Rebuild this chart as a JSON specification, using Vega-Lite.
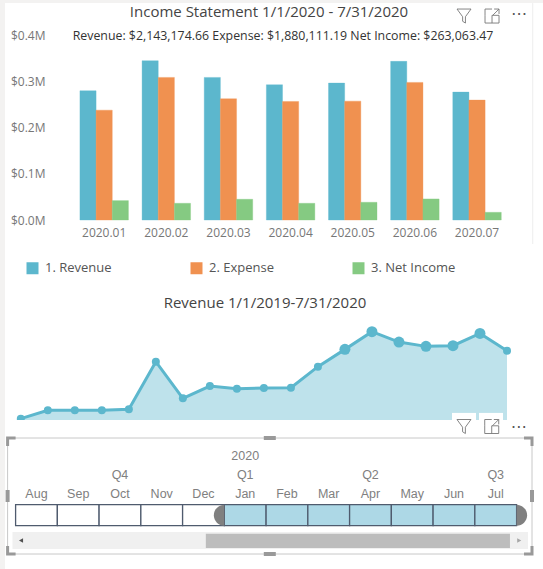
{
"$schema":"https://vega.github.io/schema/vega-lite/v6.json",
"padding":{"left":5,"top":2,"right":0,"bottom":0},
"background":"#f3f2f1",
"spacing":0,
"bounds":"flush",
"resolve":{"scale":{"color":"independent"}},
"config":{"view":{"fill":"white","stroke":null},"font":"Open Sans"},
"datasets":{
"income":[
{"month":"2020.01","type":"1. Revenue","amount":279400},{"month":"2020.01","type":"2. Expense","amount":237500},{"month":"2020.01","type":"3. Net Income","amount":41900},
{"month":"2020.02","type":"1. Revenue","amount":344400},{"month":"2020.02","type":"2. Expense","amount":308300},{"month":"2020.02","type":"3. Net Income","amount":36100},
{"month":"2020.03","type":"1. Revenue","amount":308300},{"month":"2020.03","type":"2. Expense","amount":262100},{"month":"2020.03","type":"3. Net Income","amount":44800},
{"month":"2020.04","type":"1. Revenue","amount":292400},{"month":"2020.04","type":"2. Expense","amount":256300},{"month":"2020.04","type":"3. Net Income","amount":36100},
{"month":"2020.05","type":"1. Revenue","amount":296000},{"month":"2020.05","type":"2. Expense","amount":257000},{"month":"2020.05","type":"3. Net Income","amount":38300},
{"month":"2020.06","type":"1. Revenue","amount":343000},{"month":"2020.06","type":"2. Expense","amount":297500},{"month":"2020.06","type":"3. Net Income","amount":45500},
{"month":"2020.07","type":"1. Revenue","amount":276500},{"month":"2020.07","type":"2. Expense","amount":259200},{"month":"2020.07","type":"3. Net Income","amount":16600}],
"trend":[
{"m":"2019-01","rev":5300,"focus":"no"},{"m":"2019-02","rev":38200,"focus":"no"},{"m":"2019-03","rev":38200,"focus":"no"},{"m":"2019-04","rev":38200,"focus":"no"},{"m":"2019-05","rev":42200,"focus":"no"},{"m":"2019-06","rev":230600,"focus":"no"},{"m":"2019-07","rev":85700,"focus":"no"},{"m":"2019-08","rev":134400,"focus":"no"},{"m":"2019-09","rev":123900,"focus":"no"},{"m":"2019-10","rev":126500,"focus":"no"},{"m":"2019-11","rev":127800,"focus":"no"},{"m":"2019-12","rev":210900,"focus":"no"},{"m":"2020-01","rev":279400,"focus":"yes"},{"m":"2020-02","rev":349300,"focus":"yes"},{"m":"2020-03","rev":308400,"focus":"yes"},{"m":"2020-04","rev":291300,"focus":"yes"},{"m":"2020-05","rev":293900,"focus":"yes"},{"m":"2020-06","rev":342600,"focus":"yes"},{"m":"2020-07","rev":274100,"focus":"no"}],
"cells":[
{"mon":"Aug","sel":"no"},{"mon":"Sep","sel":"no"},{"mon":"Oct","sel":"no"},{"mon":"Nov","sel":"no"},{"mon":"Dec","sel":"no"},{"mon":"Jan","sel":"yes"},{"mon":"Feb","sel":"yes"},{"mon":"Mar","sel":"yes"},{"mon":"Apr","sel":"yes"},{"mon":"May","sel":"yes"},{"mon":"Jun","sel":"yes"},{"mon":"Jul","sel":"yes"}],
"labels":[
{"mon":"Aug","lvl":"month","t":"Aug"},{"mon":"Sep","lvl":"month","t":"Sep"},{"mon":"Oct","lvl":"month","t":"Oct"},{"mon":"Nov","lvl":"month","t":"Nov"},{"mon":"Dec","lvl":"month","t":"Dec"},{"mon":"Jan","lvl":"month","t":"Jan"},{"mon":"Feb","lvl":"month","t":"Feb"},{"mon":"Mar","lvl":"month","t":"Mar"},{"mon":"Apr","lvl":"month","t":"Apr"},{"mon":"May","lvl":"month","t":"May"},{"mon":"Jun","lvl":"month","t":"Jun"},{"mon":"Jul","lvl":"month","t":"Jul"},
{"mon":"Oct","lvl":"quarter","t":"Q4"},{"mon":"Jan","lvl":"quarter","t":"Q1"},{"mon":"Apr","lvl":"quarter","t":"Q2"},{"mon":"Jul","lvl":"quarter","t":"Q3"},{"mon":"Jan","lvl":"year","t":"2020"}],
"handles":[
{"fx":0,"fy":0,"k":"tl"},{"fx":1,"fy":0,"k":"tr"},{"fx":0,"fy":1,"k":"bl"},{"fx":1,"fy":1,"k":"br"},{"fx":0.5,"fy":0,"k":"h"},{"fx":0.5,"fy":1,"k":"h"},{"fx":0,"fy":0.5,"k":"v"},{"fx":1,"fy":0.5,"k":"v"}]
},
"vconcat":[
{"width":538,"height":282,
"title":{"text":"Income Statement 1/1/2020 - 7/31/2020","fontSize":15,"fontWeight":"normal","color":"#444444","anchor":"middle","dx":-5,"offset":-17},
"layer":[
{"data":{"name":"income"},"mark":{"type":"bar","strokeWidth":1,"strokeOpacity":0.35},
"encoding":{
"x":{"field":"month","type":"nominal","scale":{"domain":["2020.01","2020.02","2020.03","2020.04","2020.05","2020.06","2020.07"],"range":[68.1,503.1],"paddingInner":0.22,"paddingOuter":0.11},
"axis":{"title":null,"labelAngle":0,"domain":false,"ticks":false,"labelColor":"#777777","labelFontSize":12,"labelPadding":7,"offset":-65}},
"xOffset":{"field":"type","type":"nominal","scale":{"paddingInner":0,"paddingOuter":0}},
"y":{"field":"amount","type":"quantitative","scale":{"domain":[0,400000],"range":[217,32],"nice":false},
"axis":{"title":null,"grid":false,"domain":false,"ticks":false,"tickCount":5,"labelColor":"#777777","labelFontSize":12,"labelPadding":-40,"labelExpr":"'$' + format(datum.value/1000000,'.1f') + 'M'"}},
"color":{"field":"type","type":"nominal","scale":{"domain":["1. Revenue","2. Expense","3. Net Income"],"range":["#5cb7cd","#f09150","#85ca82"]},
"legend":{"title":null,"orient":"none","legendX":21,"legendY":258.5,"direction":"horizontal","columns":3,"columnPadding":78,"symbolType":"square","symbolSize":144,"symbolStrokeWidth":0,"labelFontSize":13,"labelColor":"#555555","labelOffset":6}},
"stroke":{"field":"type","type":"nominal","legend":null,"scale":{"domain":["1. Revenue","2. Expense","3. Net Income"],"range":["#5cb7cd","#f09150","#85ca82"]}}
}},
{"data":{"values":[{"text":"Revenue: $2,143,174.66 Expense: $1,880,111.19 Net Income: $263,063.47"}]},"mark":{"type":"text","fontSize":12.35,"color":"#333333","dx":-7.6,"dy":1},
"encoding":{"text":{"field":"text"},"x":{"datum":"2020.04"},"y":{"datum":400000}}},
{"data":{"values":[{"m":"2020.07"}]},"mark":{"type":"point","shape":"M-1,-1L1,-1L0.2,0.1L0.2,1L-0.2,0.75L-0.2,0.1Z","size":196,"filled":false,"opacity":1,"color":"#777777","strokeWidth":0.9,"xOffset":-13},
"encoding":{"x":{"field":"m","type":"nominal"},"y":{"datum":441000}}},
{"data":{"values":[{"m":"2020.07"}]},"mark":{"type":"point","shape":"M-1,-0.1L-1,1L1,1L1,-0.1L0,-0.1L0,1M-1,-0.1L-1,-1L0,-1M0.3,-1L1,-1L1,-0.3M1,-1L0.1,-0.1","size":196,"filled":false,"opacity":1,"color":"#777777","strokeWidth":0.9,"xOffset":15},
"encoding":{"x":{"field":"m","type":"nominal"},"y":{"datum":441000}}},
{"data":{"values":[{"m":"2020.07"}]},"mark":{"type":"text","text":"⋯","font":"DejaVu Sans","fontSize":16,"color":"#555555","dx":42},
"encoding":{"x":{"field":"m","type":"nominal"},"y":{"datum":445000}}},
{"data":{"values":[{"m":"2020.07","a":-51900,"b":469000}]},"mark":{"type":"rule","color":"#ededed","strokeWidth":1,"xOffset":55.7},
"encoding":{"x":{"field":"m","type":"nominal"},"y":{"field":"a","type":"quantitative"},"y2":{"field":"b"}}}
]},
{"width":538,"height":135,
"title":{"text":"Revenue 1/1/2019-7/31/2020","fontSize":15,"fontWeight":"normal","color":"#444444","anchor":"middle","dx":-9,"offset":-26},
"layer":[
{"data":{"name":"trend"},"mark":{"type":"area","color":"#5cb7cd","opacity":0.4},
"encoding":{"x":{"field":"m","type":"ordinal","sort":null,"scale":{"type":"point","range":[15.8,502],"padding":0},"axis":null},
"y":{"field":"rev","type":"quantitative","scale":{"domain":[0,534000],"nice":false},"axis":null}}},
{"data":{"name":"trend"},"mark":{"type":"line","color":"#5cb7cd","strokeWidth":3},
"encoding":{"x":{"field":"m","type":"ordinal","sort":null},"y":{"field":"rev","type":"quantitative"}}},
{"data":{"name":"trend"},"mark":{"type":"point","filled":true,"opacity":1,"color":"#5cb7cd","clip":true},
"encoding":{"x":{"field":"m","type":"ordinal","sort":null},"y":{"field":"rev","type":"quantitative"},
"size":{"field":"focus","type":"nominal","scale":{"domain":["no","yes"],"range":[64,121]},"legend":null}}},
{"data":{"values":[{"m":"2020-05","top":28000},{"m":"2020-06","top":28000}]},"mark":{"type":"bar","color":"white","width":24,"xOffset":11},
"encoding":{"x":{"field":"m","type":"ordinal"},"y":{"field":"top","type":"quantitative"}}}
]},
{"width":538,"height":150,
"resolve":{"scale":{"x":"independent","y":"independent"}},
"layer":[
{"data":{"values":[{"a":0,"b":1,"c":0,"d":1}]},"mark":{"type":"rect","fill":"white","stroke":"#c8c8c8","strokeWidth":1},
"encoding":{"x":{"field":"a","type":"quantitative","scale":{"domain":[0,1],"range":[2.6,527],"nice":false,"zero":false},"axis":null},"x2":{"field":"b"},
"y":{"field":"c","type":"quantitative","scale":{"domain":[0,1],"range":[18,134],"nice":false,"zero":false},"axis":null},"y2":{"field":"d"}}},
{"data":{"name":"handles"},"mark":{"type":"point","filled":true,"opacity":1,"size":400,"color":"#999999"},
"encoding":{"x":{"field":"fx","type":"quantitative","scale":{"domain":[0,1],"range":[2.6,527],"nice":false,"zero":false},"axis":null},
"y":{"field":"fy","type":"quantitative","scale":{"domain":[0,1],"range":[18,134],"nice":false,"zero":false},"axis":null},
"shape":{"field":"k","type":"nominal","legend":null,"scale":{"domain":["tl","tr","bl","br","h","v"],"range":[
"M-0.15,-0.15H0.8V0.15H0.15V0.8H-0.15Z","M0.15,-0.15H-0.8V0.15H-0.15V0.8H0.15Z","M-0.15,0.15H0.8V-0.15H0.15V-0.8H-0.15Z","M0.15,0.15H-0.8V-0.15H-0.15V-0.8H0.15Z","M-0.6,-0.2H0.6V0.2H-0.6Z","M-0.2,-0.6H0.2V0.6H-0.2Z"]}}}},
{"data":{"name":"labels"},"mark":{"type":"text","font":"Liberation Sans","fontSize":12.5,"color":"#808080"},
"encoding":{"text":{"field":"t"},
"x":{"field":"mon","type":"nominal","scale":{"domain":["Aug","Sep","Oct","Nov","Dec","Jan","Feb","Mar","Apr","May","Jun","Jul"],"range":[10.6,511.6],"paddingInner":0,"paddingOuter":0},"axis":null},
"y":{"field":"lvl","type":"nominal","scale":{"type":"point","domain":["year","quarter","month"],"range":[36,74],"padding":0},"axis":null}}},
{"data":{"values":[{"b":"track","a":0,"e":1}]},"mark":{"type":"rect","color":"#f0f0f0"},
"encoding":{"x":{"field":"a","type":"quantitative","scale":{"domain":[0,1],"range":[7.5,523],"nice":false,"zero":false},"axis":null},"x2":{"field":"e"},
"y":{"field":"b","type":"nominal","scale":{"domain":["track"],"range":[112,129],"paddingInner":0,"paddingOuter":0},"axis":null}}},
{"data":{"values":[{"b":"thumb","a":0.375,"e":0.965}]},"mark":{"type":"rect","color":"#bdbdbd"},
"encoding":{"x":{"field":"a","type":"quantitative","scale":{"domain":[0,1],"range":[7.5,523],"nice":false,"zero":false},"axis":null},"x2":{"field":"e"},
"y":{"field":"b","type":"nominal","scale":{"domain":["thumb"],"range":[113.7,128],"paddingInner":0,"paddingOuter":0},"axis":null}}},
{"data":{"values":[{"f":0.0165}]},"mark":{"type":"point","filled":true,"opacity":1,"size":22,"shape":"triangle-left","color":"#505050"},
"encoding":{"x":{"field":"f","type":"quantitative","scale":{"domain":[0,1],"range":[7.5,523],"nice":false,"zero":false},"axis":null},
"y":{"datum":"scroll","type":"nominal","scale":{"domain":["scroll"],"range":[120.5,120.5],"type":"point"},"axis":null}}},
{"data":{"values":[{"f":0.983}]},"mark":{"type":"point","filled":true,"opacity":1,"size":22,"shape":"triangle-right","color":"#a6a6a6"},
"encoding":{"x":{"field":"f","type":"quantitative","scale":{"domain":[0,1],"range":[7.5,523],"nice":false,"zero":false},"axis":null},
"y":{"datum":"scroll","type":"nominal","scale":{"domain":["scroll"],"range":[120.5,120.5],"type":"point"},"axis":null}}},
{"data":{"name":"cells"},"mark":{"type":"rect","stroke":"#4f5b6e","strokeWidth":1.3},
"encoding":{"x":{"field":"mon","type":"nominal","scale":{"domain":["Aug","Sep","Oct","Nov","Dec","Jan","Feb","Mar","Apr","May","Jun","Jul"],"range":[10.6,511.6],"paddingInner":0,"paddingOuter":0},"axis":null},
"y":{"datum":"cell","type":"nominal","scale":{"domain":["cell"],"range":[84.7,105.7],"paddingInner":0,"paddingOuter":0},"axis":null},
"fill":{"field":"sel","type":"nominal","legend":null,"scale":{"domain":["no","yes"],"range":["#ffffff","#add8e6"]}}}},
{"data":{"values":[{"mon":"Jan"}]},"mark":{"type":"point","shape":"M0,-1A1,1,0,0,0,0,1Z","size":441,"filled":true,"opacity":1,"color":"#808080","xOffset":-20.9},
"encoding":{"x":{"field":"mon","type":"nominal","scale":{"domain":["Aug","Sep","Oct","Nov","Dec","Jan","Feb","Mar","Apr","May","Jun","Jul"],"range":[10.6,511.6],"paddingInner":0,"paddingOuter":0},"axis":null},
"y":{"datum":"cell","type":"nominal","scale":{"type":"point","domain":["cell"],"range":[95.2,95.2]},"axis":null}}},
{"data":{"values":[{"mon":"Jul"}]},"mark":{"type":"point","shape":"M0,-1A1,1,0,0,1,0,1Z","size":441,"filled":true,"opacity":1,"color":"#808080","xOffset":20.9},
"encoding":{"x":{"field":"mon","type":"nominal","scale":{"domain":["Aug","Sep","Oct","Nov","Dec","Jan","Feb","Mar","Apr","May","Jun","Jul"],"range":[10.6,511.6],"paddingInner":0,"paddingOuter":0},"axis":null},
"y":{"datum":"cell","type":"nominal","scale":{"type":"point","domain":["cell"],"range":[95.2,95.2]},"axis":null}}},
{"data":{"values":[{"mon":"Jun"}]},"mark":{"type":"point","shape":"M-1,-1L1,-1L0.2,0.1L0.2,1L-0.2,0.75L-0.2,0.1Z","size":196,"filled":false,"opacity":1,"color":"#777777","strokeWidth":0.9,"xOffset":10},
"encoding":{"x":{"field":"mon","type":"nominal","scale":{"domain":["Aug","Sep","Oct","Nov","Dec","Jan","Feb","Mar","Apr","May","Jun","Jul"],"range":[10.6,511.6],"paddingInner":0,"paddingOuter":0},"axis":null},
"y":{"datum":"bar","type":"nominal","scale":{"type":"point","domain":["bar"],"range":[6.5,6.5]},"axis":null}}},
{"data":{"values":[{"mon":"Jul"}]},"mark":{"type":"point","shape":"M-1,-0.1L-1,1L1,1L1,-0.1L0,-0.1L0,1M-1,-0.1L-1,-1L0,-1M0.3,-1L1,-1L1,-0.3M1,-1L0.1,-0.1","size":196,"filled":false,"opacity":1,"color":"#777777","strokeWidth":0.9,"xOffset":-4},
"encoding":{"x":{"field":"mon","type":"nominal","scale":{"domain":["Aug","Sep","Oct","Nov","Dec","Jan","Feb","Mar","Apr","May","Jun","Jul"],"range":[10.6,511.6],"paddingInner":0,"paddingOuter":0},"axis":null},
"y":{"datum":"bar","type":"nominal","scale":{"type":"point","domain":["bar"],"range":[6.5,6.5]},"axis":null}}},
{"data":{"values":[{"mon":"Jul"}]},"mark":{"type":"text","text":"⋯","font":"DejaVu Sans","fontSize":16,"color":"#555555","dx":23},
"encoding":{"x":{"field":"mon","type":"nominal","scale":{"domain":["Aug","Sep","Oct","Nov","Dec","Jan","Feb","Mar","Apr","May","Jun","Jul"],"range":[10.6,511.6],"paddingInner":0,"paddingOuter":0},"axis":null},
"y":{"datum":"bar","type":"nominal","scale":{"type":"point","domain":["bar"],"range":[6.5,6.5]},"axis":null}}}
]}
]}
